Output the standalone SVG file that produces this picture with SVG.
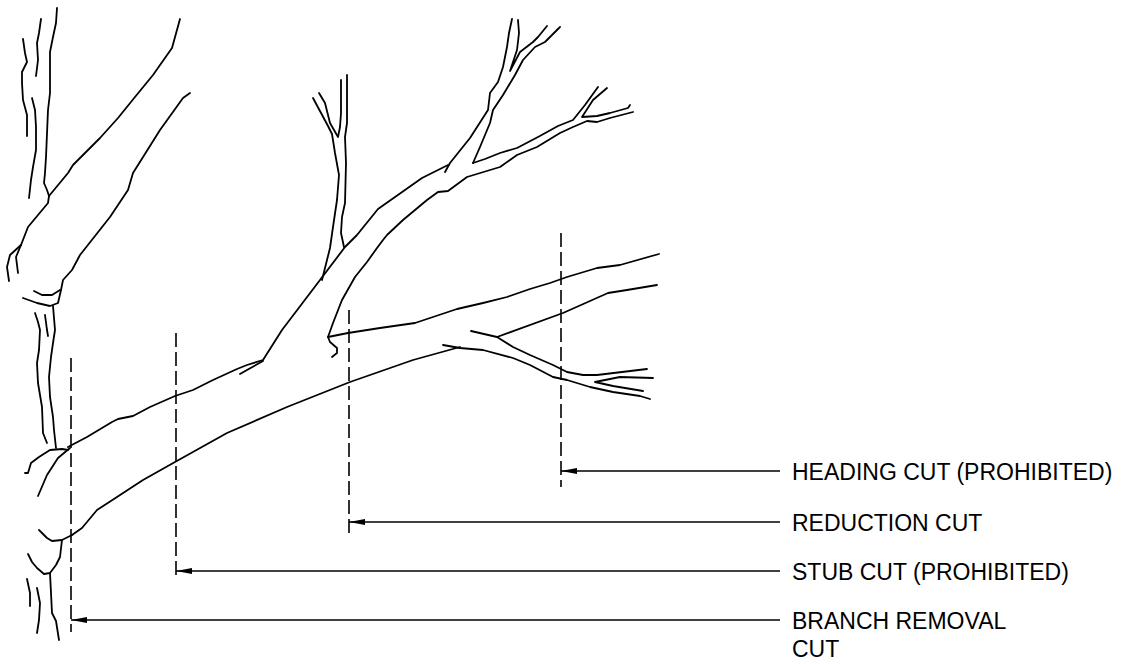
<svg xmlns="http://www.w3.org/2000/svg" width="1123" height="664" viewBox="0 0 1123 664">
<style>
.t{fill:none;stroke:#000;stroke-width:1.8;stroke-linejoin:round;stroke-linecap:round}
.d{fill:none;stroke:#000;stroke-width:1.6;stroke-dasharray:14 5}
.c{fill:none;stroke:#000;stroke-width:1.6}
.lbl{font-family:"Liberation Sans",Arial,sans-serif;font-size:23px;fill:#000}
</style>
<defs>
<marker id="ah" markerWidth="16" markerHeight="8" refX="16" refY="4" orient="auto" markerUnits="userSpaceOnUse">
<path d="M0,1 L16,4 L0,7 Z" fill="#000"/>
</marker>
</defs>
<rect width="1123" height="664" fill="#fff"/>
<g id="tree">
<polyline class="t" points="57,8 56,23 53,37 50,52 50,93 48,110 46,157 45,173 44,183 47,190 49,196"/>
<polyline class="t" points="41,19 39,33 37,43 38,60 36,76"/>
<polyline class="t" points="23,39 25,53 27,62 22,72 22,83 23,100 27,115 27,136"/>
<polyline class="t" points="32,98 35,110 36,127 36,150 33,167 31,180 29,198"/>
<polyline class="t" points="49,196 68,173 73,165 100,138 118,118 135,97 153,75 172,48 180,19"/>
<polyline class="t" points="49,196 48,203 28,227 21,245 10,255 7,267 9,281"/>
<polyline class="t" points="21,245 16,257 18,273"/>
<polyline class="t" points="190,93 183,98 160,130 133,173 128,190 110,217 80,255 72,270 63,280 61,290 58,303 50,306 37,303 23,298"/>
<polyline class="t" points="34,291 42,295 52,295 60,290"/>
<polyline class="t" points="35,313 38,322 40,330 39,350 37,363 38,383 42,407 43,433 47,443"/>
<polyline class="t" points="45,315 47,330 48,336"/>
<polyline class="t" points="53,306 54,318 55,330 53,343 51,357 49,377 50,397 53,417 54,430 56,448"/>
<polyline class="t" points="25,473 28,473 31,463 39,457 50,450 62,449 68,450"/>
<polyline class="t" points="38,496 47,475 58,458 70,448"/>
<polyline class="t" points="68,447 87,437 112,422 118,419 133,416 150,407 175,396 193,390 213,380 237,369 247,365 263,360 282,330 320,280 345,247 357,235 378,209 422,178 448,165"/>
<polyline class="t" points="72,535 82,528 97,510 117,497 143,480 175,462 227,433 287,407 350,382 413,360 460,347"/>
<polyline class="t" points="39,530 47,538 52,541 62,540 72,535"/>
<polyline class="t" points="62,540 60,557 56,565 50,573 44,574 37,568 32,562 28,554"/>
<polyline class="t" points="50,573 52,613 56,621 59,640"/>
<polyline class="t" points="37,588 40,603 39,620 37,633"/>
<polyline class="t" points="27,579 30,593 30,606"/>
<polyline class="t" points="240,374 247,370 263,361"/>
<polyline class="t" points="313,98 328,126 332,134 335,153 339,175 337,200 333,227 330,248 322,280"/>
<polyline class="t" points="319,93 325,103 330,123 338,137 340,127 341,113 341,80"/>
<polyline class="t" points="347,75 347,123 345,137 346,163 345,203 342,217 341,233 344,247"/>
<polyline class="t" points="332,357 337,353 337,348 330,342 328,337 333,323 342,300 355,277 367,262 377,248 383,240 387,235 403,220 427,200 438,192 448,191 467,177 500,167 510,160 517,155 537,147 560,133 573,127 587,121 597,122 610,118 633,112"/>
<polyline class="t" points="445,172 450,163 470,138 488,110 490,93 498,82 503,67 507,47 509,33 512,19"/>
<polyline class="t" points="518,20 519,33 517,50 510,71 520,52 533,42 538,37 547,26"/>
<polyline class="t" points="473,163 480,147 490,123 493,110 503,95 515,75 523,60 535,47 545,42 560,27"/>
<polyline class="t" points="473,163 485,159 500,153 517,148 538,137 558,126 573,120 585,105 598,87"/>
<polyline class="t" points="607,88 593,100 582,117 597,116 610,113 628,108 630,105"/>
<polyline class="t" points="328,337 348,333 380,328 415,323 430,318 457,309 483,303 507,297 530,289 550,283 567,277 597,268 620,265 659,254"/>
<polyline class="t" points="497,337 563,313 608,293 627,290 657,285"/>
<polyline class="t" points="471,331 497,337 513,347 530,355 553,365 567,372 583,375 597,375 647,369"/>
<polyline class="t" points="443,345 460,348 483,350 513,358 530,365 553,377 567,380 590,387 613,392 640,396 650,399"/>
<polyline class="t" points="653,378 620,377 595,382 613,386 643,391"/>
</g>
<g id="cut-lines">
<line class="d" x1="561" y1="233" x2="561" y2="487"/>
<line class="d" x1="349" y1="310" x2="349" y2="536"/>
<line class="d" x1="176" y1="333" x2="176" y2="576"/>
<line class="d" x1="71" y1="358" x2="71" y2="632"/>
</g>
<g id="connectors">
<line class="c" x1="780" y1="471" x2="561" y2="471" marker-end="url(#ah)"/>
<line class="c" x1="780" y1="522" x2="349" y2="522" marker-end="url(#ah)"/>
<line class="c" x1="780" y1="571" x2="176" y2="571" marker-end="url(#ah)"/>
<line class="c" x1="780" y1="620" x2="71" y2="620" marker-end="url(#ah)"/>
</g>
<g id="label-heading"><text class="lbl" x="792" y="480">HEADING CUT (PROHIBITED)</text></g>
<g id="label-reduction"><text class="lbl" x="792" y="531">REDUCTION CUT</text></g>
<g id="label-stub"><text class="lbl" x="792" y="580">STUB CUT (PROHIBITED)</text></g>
<g id="label-branch-removal"><text class="lbl" x="792" y="629">BRANCH REMOVAL</text><text class="lbl" x="792" y="657">CUT</text></g>
</svg>
